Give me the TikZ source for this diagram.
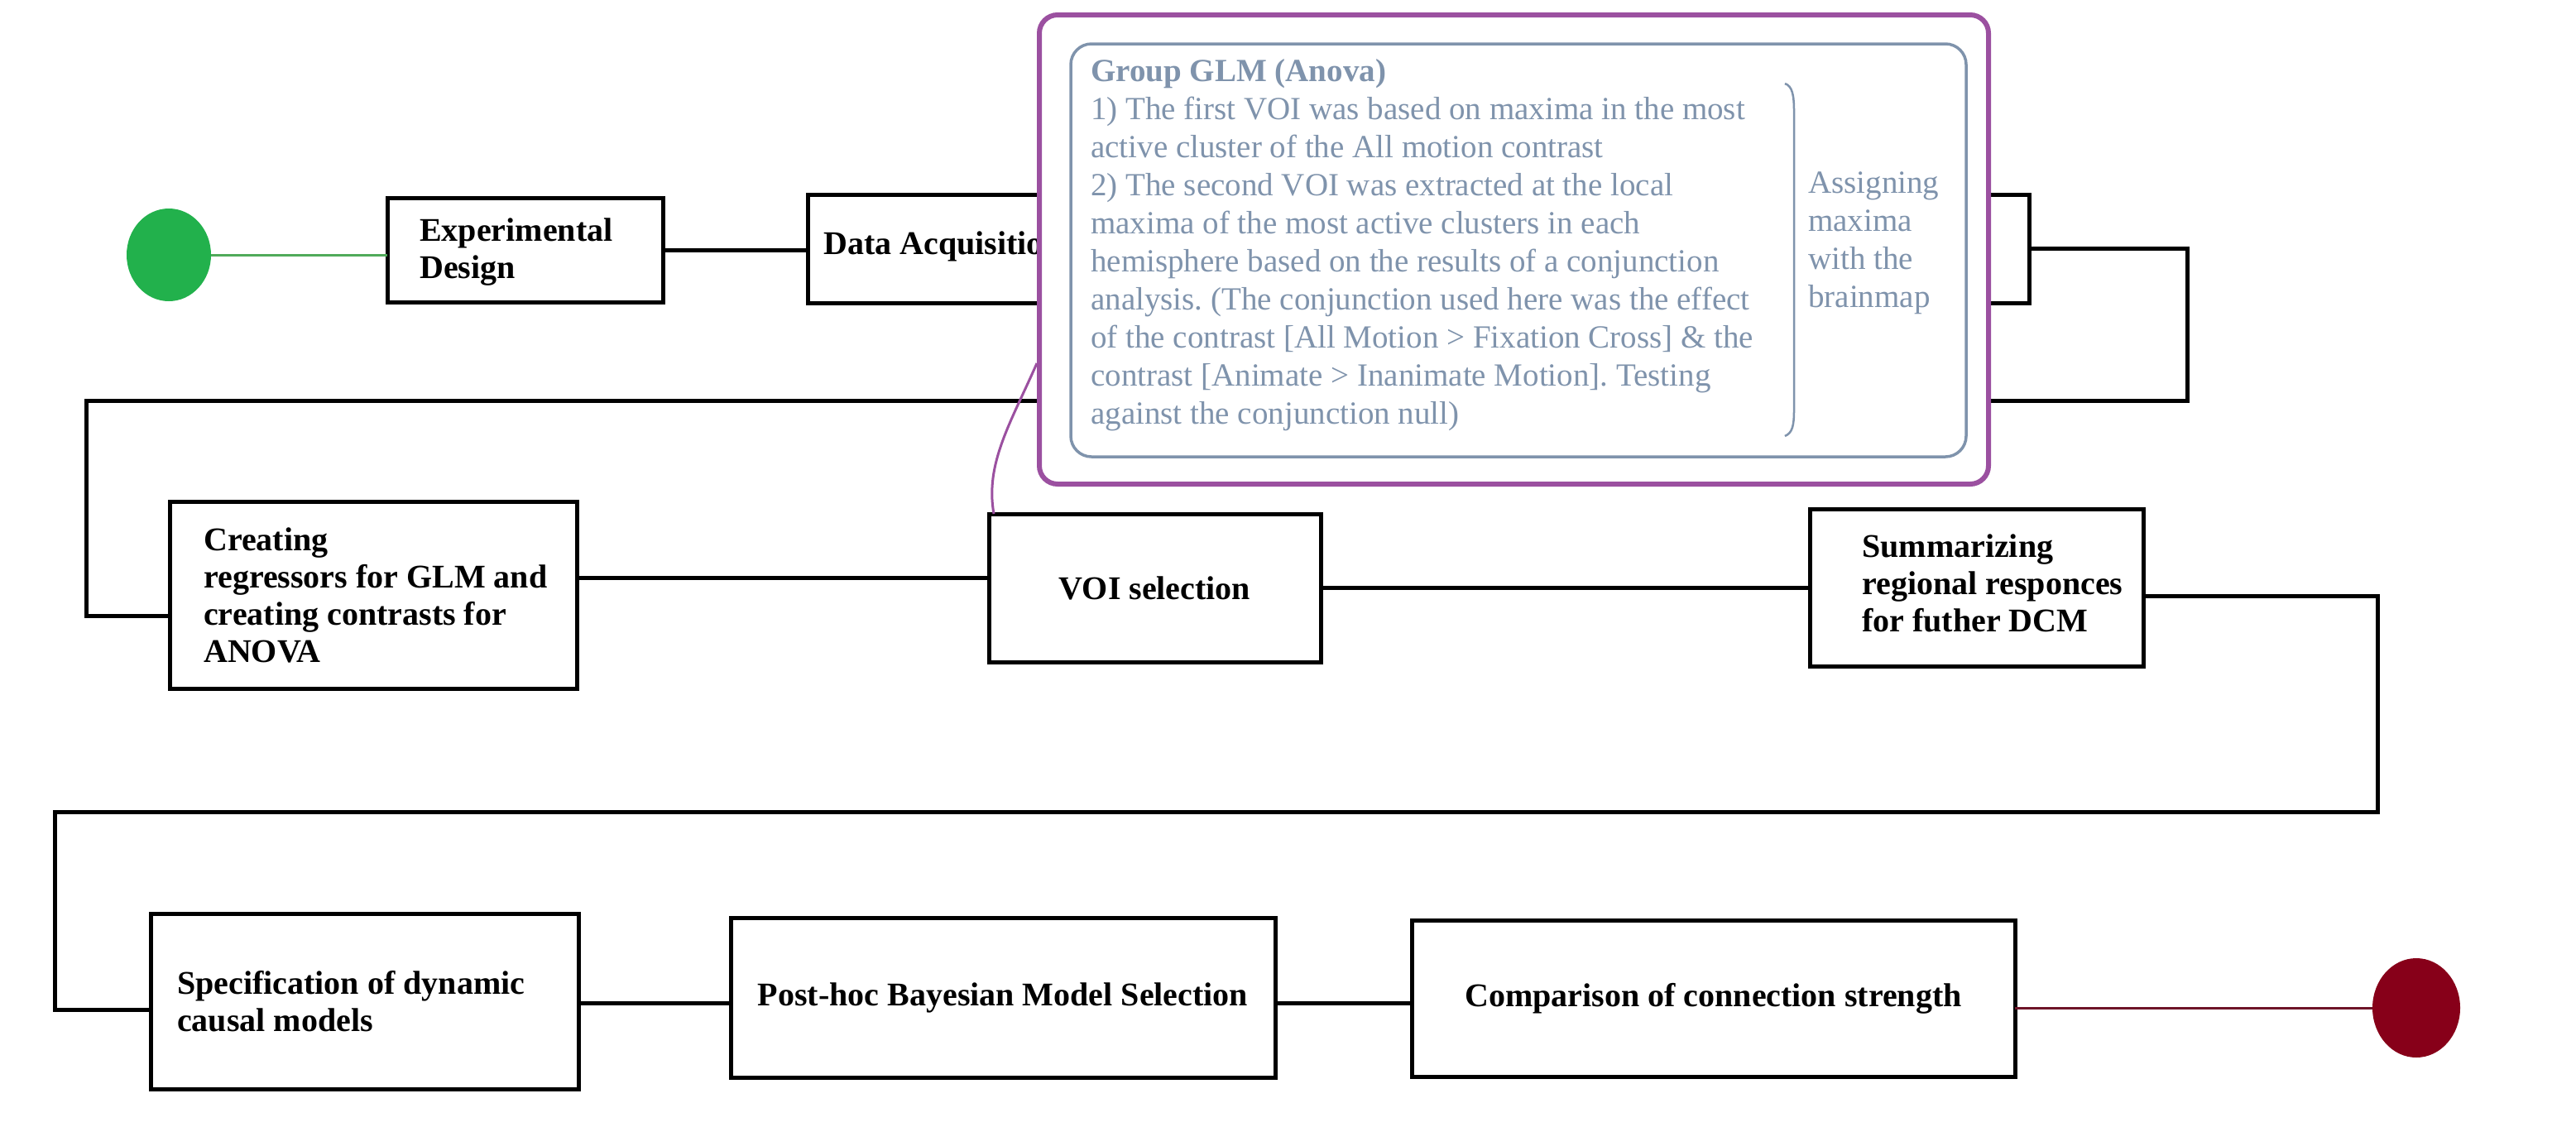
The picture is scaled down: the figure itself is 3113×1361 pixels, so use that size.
\documentclass[tikz,border=0pt]{standalone}
\usepackage{fontspec}
\usetikzlibrary{shapes.geometric}
\setmainfont{Liberation Serif}
\frenchspacing
\definecolor{slate}{RGB}{127,147,172}
\definecolor{purp}{RGB}{155,80,160}
\definecolor{grn}{RGB}{34,177,76}
\definecolor{grnline}{RGB}{80,170,90}
\definecolor{dred}{RGB}{135,0,25}
\definecolor{dredline}{RGB}{110,20,40}
\begin{document}
\begin{tikzpicture}[x=1pt,y=-1pt,
  box/.style={draw=black, line width=5pt, rectangle, inner sep=0pt, outer sep=0pt},
  btxt/.style={font=\bfseries\fontsize{40}{45}\selectfont, align=left, inner sep=0pt, text=black},
  conn/.style={draw=black, line width=5pt, line join=miter},
  stxt/.style={font=\fontsize{39}{46}\selectfont, align=left, inner sep=0pt, text=slate}]
\fill[white] (0,0) rectangle (3113,1361);
\useasboundingbox (0,0) rectangle (3113,1361);

% end points
\node[ellipse, fill=grn, minimum width=102pt, minimum height=112pt, inner sep=0pt] (green) at (204,308) {};
\node[ellipse, fill=dred, minimum width=106pt, minimum height=120pt, inner sep=0pt] (red) at (2920,1218) {};

% boxes
\node[box, minimum width=333pt, minimum height=126pt] (exp) at (634.5,302) {};
\node[box, minimum width=1476pt, minimum height=131pt] (dacq) at (1714,300.5) {};
\node[box, minimum width=492pt, minimum height=226pt] (cre) at (451,719) {};
\node[box, minimum width=401pt, minimum height=179pt] (voi) at (1395.5,710.5) {};
\node[box, minimum width=403pt, minimum height=190pt] (summ) at (2388.5,710) {};
\node[box, minimum width=517pt, minimum height=212pt] (spec) at (440.5,1210) {};
\node[box, minimum width=658pt, minimum height=193pt] (post) at (1212,1205.5) {};
\node[box, minimum width=729pt, minimum height=189pt] (comp) at (2070.5,1206.5) {};

% box texts
\node[btxt, anchor=west] (expt) at ([xshift=39pt,yshift=-3pt]exp.west) {Experimental\\Design};
\node[btxt, anchor=west] (dacqt) at ([xshift=19pt,yshift=3pt]dacq.west) {Data Acquisition};
\node[btxt, anchor=west] (cret) at ([xshift=41pt]cre.west) {Creating\\regressors for GLM and\\creating contrasts for\\ANOVA};
\node[btxt] (voit) at (voi.center) {VOI selection};
\node[btxt, anchor=west] (summt) at ([xshift=63pt,yshift=5pt]summ.west) {Summarizing\\regional responces\\for futher DCM};
\node[btxt, anchor=west] (spect) at ([xshift=32pt]spec.west) {Specification of dynamic\\causal models};
\node[btxt] (postt) at (post.center) {Post-hoc Bayesian Model Selection};
\node[btxt] (compt) at (comp.center) {Comparison of connection strength};

% connectors
\coordinate (b1) at (2643,300.5);
\coordinate (b2) at (2643,484);
\coordinate (b3) at (104,484);
\coordinate (b4) at (104,744);
\coordinate (b5) at (0,698);
\coordinate (b6) at (2873,720);
\coordinate (b7) at (2873,981);
\coordinate (b8) at (66,981);
\coordinate (b9) at (66,1220);
\coordinate (b10) at (0,1212);
\draw[grnline, line width=3pt] (green.east) -- (green.east -| exp.west);
\draw[conn] (exp.east) -- (exp.east -| dacq.west);
\draw[conn] (dacq.east) -- (b1) -- (b2) -- (b3) -- (b4) -- (b4 -| cre.west);
\draw[conn] (b5 -| cre.east) -- (b5 -| voi.west);
\draw[conn] (voi.east) -- (voi.east -| summ.west);
\draw[conn] (b6 -| summ.east) -- (b6) -- (b7) -- (b8) -- (b9) -- (b9 -| spec.west);
\draw[conn] (b10 -| spec.east) -- (b10 -| post.west);
\draw[conn] (b10 -| post.east) -- (b10 -| comp.west);
\draw[dredline, line width=3pt] (comp.east |- red.west) -- (red.west);

% Group GLM callout
\node[draw=purp, line width=6pt, fill=white, rounded corners=22pt, minimum width=1147pt, minimum height=567pt, inner sep=0pt] (glm) at (1829.5,301.5) {};
\node[draw=slate, line width=3.5pt, rounded corners=25pt, minimum width=1082pt, minimum height=499pt, inner sep=0pt] (inner) at (1835,302.5) {};
\node[stxt, anchor=north west] (glmt) at (1318,71) {\textbf{Group GLM (Anova)}\\
1) The first VOI was based on maxima in the most\\
active cluster of the All motion contrast\\
2) The second VOI was extracted at the local\\
maxima of the most active clusters in each\\
hemisphere based on the results of a conjunction\\
analysis. (The conjunction used here was the effect\\
of the contrast [All Motion > Fixation Cross] \& the\\
contrast [Animate > Inanimate Motion]. Testing\\
against the conjunction null)};
\node[stxt, anchor=north west] (assign) at (2185,207) {Assigning\\maxima\\with the\\brainmap};
\draw[slate, line width=2.5pt] (2157,101) .. controls (2166,104) and (2168,115) .. (2168,135) -- (2168,495) .. controls (2168,515) and (2166,523) .. (2157,527);
\coordinate (p1) at (glm.west |- 0,439);
\draw[purp, line width=3pt] (p1) .. controls (1222,510) and (1190,560) .. ([xshift=6pt]voi.north west);
\end{tikzpicture}
\end{document}
